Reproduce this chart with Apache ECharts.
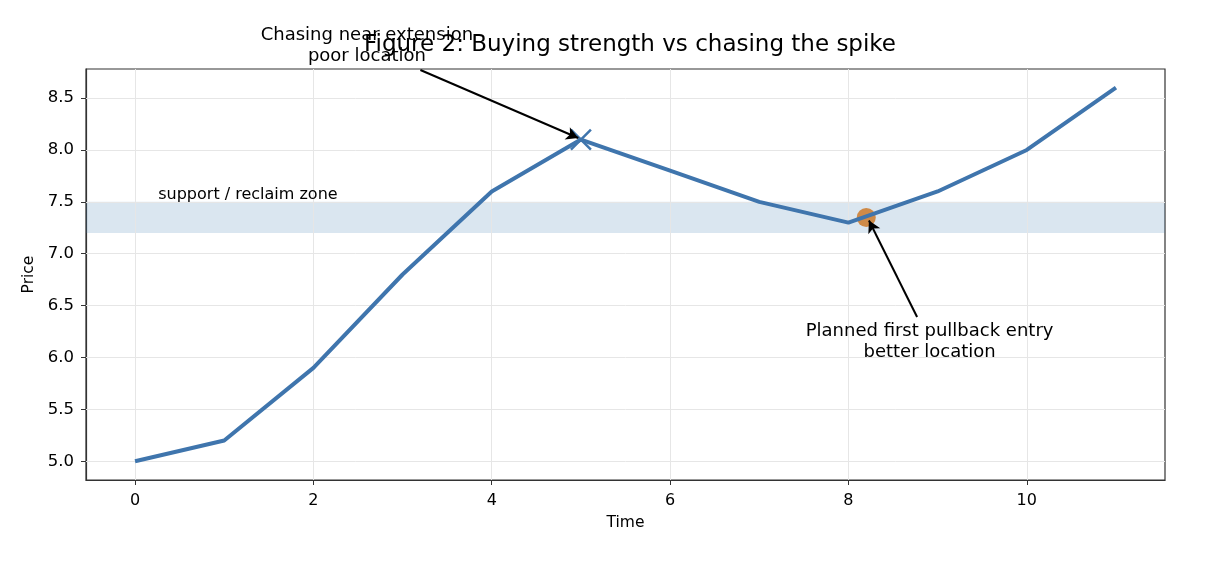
<!DOCTYPE html>
<html>
<head>
<meta charset="utf-8">
<script src="https://cdn.jsdelivr.net/npm/echarts@6/dist/echarts.min.js"></script>
<style>
  html, body { margin: 0; padding: 0; background: #fff; }
  #chart { width: 1206px; height: 571px; }
</style>
</head>
<body>
<div id="chart"></div>
<script>
// price path
const times = [0, 1, 2, 3, 4, 5, 6, 7, 8, 9, 10, 11]
const prices = [5.0, 5.2, 5.9, 6.8, 7.6, 8.1, 7.8, 7.5, 7.3, 7.6, 8.0, 8.6]
const xTicks = [0, 2, 4, 6, 8, 10]
const yTicks = [5.0, 5.5, 6.0, 6.5, 7.0, 7.5, 8.0, 8.5]
const zone = [7.2, 7.5]
const chasePoint = [5, 8.1]
const entryPoint = [8.2, 7.35]
// annotation arrows [from, to]
const chaseArrow = [[3.2, 8.77], [4.97, 8.115]]
const entryArrow = [[8.77, 6.39], [8.23, 7.32]]
const chaseText = [2.6, 9.0]
const entryText = [8.91, 6.15]
const zoneText = [0.26, 7.57]

const blue = '#3f75ad'
const font = 'DejaVu Sans'

const chart = echarts.init(document.getElementById('chart'))

const option = {
  animation: false,
  textStyle: { fontFamily: font },
  title: {
    text: 'Figure 2: Buying strength vs chasing the spike',
    left: 625, top: 29, textAlign: 'center',
    textStyle: { fontFamily: font, fontSize: 23, fontWeight: 'normal', color: '#000' }
  },
  grid: { left: 86, right: 41, top: 69, bottom: 91, show: true, borderColor: '#333', borderWidth: 1.2, backgroundColor: 'transparent' },
  xAxis: {
    type: 'value', min: -0.55, max: 11.55,
    name: 'Time', nameLocation: 'middle', nameGap: 35,
    nameTextStyle: { fontFamily: font, fontSize: 15.5, color: '#000' },
    axisLine: { onZero: false, lineStyle: { color: '#333', width: 1.2 } },
    axisTick: { customValues: xTicks, length: 5, lineStyle: { color: '#333' } },
    axisLabel: { customValues: xTicks, fontFamily: font, fontSize: 16, color: '#000', margin: 13 },
    splitLine: { show: false }
  },
  yAxis: {
    type: 'value', min: 4.82, max: 8.78,
    name: 'Price', nameLocation: 'middle', nameGap: 44,
    nameTextStyle: { fontFamily: font, fontSize: 15.5, color: '#000' },
    axisLine: { show: true, onZero: false, lineStyle: { color: '#333', width: 1.2 } },
    axisTick: { show: true, customValues: yTicks, length: 5, lineStyle: { color: '#333' } },
    axisLabel: { customValues: yTicks, fontFamily: font, fontSize: 16.5, color: '#000', margin: 12,
      formatter: v => v.toFixed(1) },
    splitLine: { show: false }
  },
  series: [
    {
      // grid lines
      type: 'line', data: [], silent: true, z: 1,
      markLine: {
        z: 1, silent: true, symbol: 'none', label: { show: false },
        lineStyle: { color: '#e6e6e6', width: 1, type: 'solid' },
        data: xTicks.map(x => ({ xAxis: x })).concat(yTicks.map(y => ({ yAxis: y })))
      }
    },
    {
      type: 'line', data: [], silent: true, z: 1,
      markArea: {
        z: 1, silent: true,
        itemStyle: { color: 'rgba(70,130,180,0.2)' },
        data: [[{ yAxis: zone[0] }, { yAxis: zone[1] }]]
      }
    },
    {
      type: 'scatter', data: [entryPoint],
      symbol: 'circle', symbolSize: 19,
      itemStyle: { color: '#cd853f', opacity: 0.95 },
      z: 2
    },
    {
      type: 'line',
      data: times.map((t, i) => [t, prices[i]]),
      showSymbol: false,
      lineStyle: { color: blue, width: 4 },
      z: 3
    },
    {
      type: 'scatter', data: [chasePoint],
      symbol: 'path://M0,0L10,10M10,0L0,10', symbolSize: 20,
      itemStyle: { color: 'none', borderColor: blue, borderWidth: 2.5, opacity: 1 },
      z: 4
    },
    {
      // arrows
      type: 'line', data: [], silent: true, z: 6,
      markLine: {
        z: 6, silent: true, symbol: ['none', 'arrow'], symbolSize: [10, 12],
        label: { show: false },
        lineStyle: { color: '#000', width: 2, type: 'solid' },
        data: [
          [{ coord: chaseArrow[0] }, { coord: chaseArrow[1] }],
          [{ coord: entryArrow[0] }, { coord: entryArrow[1] }]
        ]
      }
    },
    {
      // text labels
      type: 'scatter', silent: true, clip: false, symbolSize: 0, z: 7,
      itemStyle: { opacity: 1 },
      data: [
        { value: chaseText, label: { formatter: 'Chasing near extension\npoor location', align: 'center' } },
        { value: entryText, label: { formatter: 'Planned first pullback entry\nbetter location', align: 'center' } },
        { value: zoneText, label: { formatter: 'support / reclaim zone', align: 'left', fontSize: 16 } }
      ],
      label: {
        show: true, position: 'inside', color: '#000', fontSize: 18, lineHeight: 21,
        fontFamily: font, textBorderWidth: 0
      }
    }
  ]
}

chart.setOption(option)
</script>
</body>
</html>
